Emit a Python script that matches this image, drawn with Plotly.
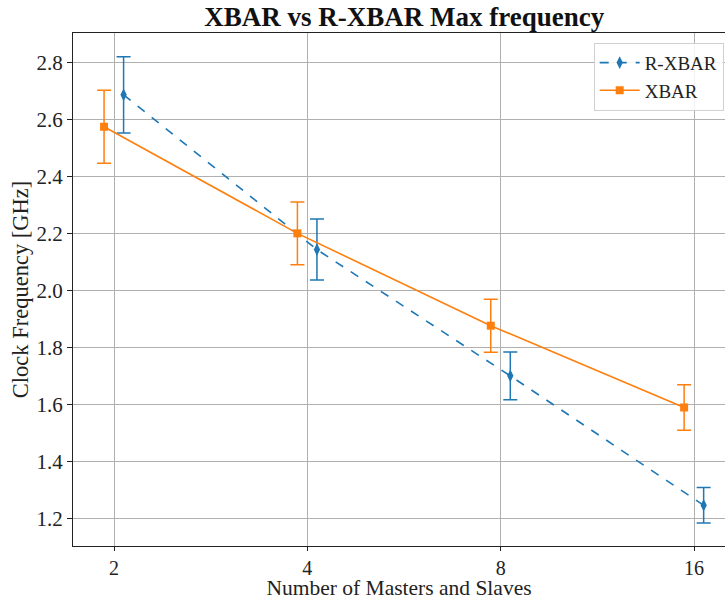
import plotly.graph_objects as go

# Data
nodes = [2, 4, 8, 16]
tick_labels = ["2", "4", "8", "16"]
xbar = [2.576, 2.202, 1.878, 1.591]
xbar_err = [0.128, 0.110, 0.093, 0.080]
rxbar = [2.688, 2.145, 1.702, 1.248]
rxbar_err = [0.134, 0.107, 0.084, 0.062]
y_ticks = [1.2, 1.4, 1.6, 1.8, 2.0, 2.2, 2.4, 2.6, 2.8]

# Horizontal dodge factors (style)
DODGE_XBAR = 0.965
DODGE_RXBAR = 1.035

BLUE = "#1f77b4"
ORANGE = "#ff7f0e"
FONT = "Liberation Serif"

fig = go.Figure()
fig.add_trace(go.Scatter(
    x=[n * DODGE_RXBAR for n in nodes], y=rxbar, name="R-XBAR",
    mode="lines+markers",
    line=dict(color=BLUE, width=1.6, dash="dash"),
    marker=dict(symbol="diamond-tall", size=9, color=BLUE),
    error_y=dict(type="data", array=rxbar_err, visible=True, width=7,
                 thickness=1.5, color=BLUE),
))
fig.add_trace(go.Scatter(
    x=[n * DODGE_XBAR for n in nodes], y=xbar, name="XBAR",
    mode="lines+markers",
    line=dict(color=ORANGE, width=1.6),
    marker=dict(symbol="square", size=8, color=ORANGE),
    error_y=dict(type="data", array=xbar_err, visible=True, width=7,
                 thickness=1.5, color=ORANGE),
))

fig.update_layout(
    width=725, height=600,
    margin=dict(l=73, r=0, t=33, b=54, autoexpand=False),
    plot_bgcolor="white", paper_bgcolor="white",
    font=dict(family=FONT, size=21, color="#222"),
    showlegend=True,
    title=dict(text="<b>XBAR vs R-XBAR Max frequency</b>",
               x=0.508, xref="paper", xanchor="center",
               y=1 - 17 / 600, yref="container", yanchor="middle",
               font=dict(family=FONT, size=27, color="#111")),
    legend=dict(x=0.998, xanchor="right", y=0.981, yanchor="top",
                bgcolor="rgba(255,255,255,0.85)", bordercolor="#d0d0d0",
                borderwidth=1, font=dict(family=FONT, size=19, color="#222"),
                tracegroupgap=0, itemwidth=40),
)
fig.update_xaxes(
    type="log", range=[0.2372, 1.2523], automargin=False,
    tickvals=nodes, ticktext=tick_labels,
    showgrid=True, gridcolor="#b0b0b0", gridwidth=1,
    showline=True, linecolor="#222", linewidth=1, mirror=True,
    ticks="outside", ticklen=4, tickwidth=1, tickcolor="#222",
    tickfont=dict(size=20),
    title=dict(text="Number of Masters and Slaves", font=dict(size=21.5), standoff=8),
    zeroline=False,
)
fig.update_yaxes(
    range=[1.105, 2.905], automargin=False,
    tickvals=y_ticks, tickformat=".1f",
    showgrid=True, gridcolor="#b0b0b0", gridwidth=1,
    showline=True, linecolor="#222", linewidth=1, mirror=False,
    ticks="outside", ticklen=5, tickwidth=1, tickcolor="#222",
    tickfont=dict(size=21),
    title=dict(text="Clock Frequency [GHz]", font=dict(size=22.5), standoff=1),
    zeroline=False,
)

fig.write_html("out.html", config={"displayModeBar": False},
               post_script="document.body.style.margin='0';document.body.style.overflow='hidden';")
